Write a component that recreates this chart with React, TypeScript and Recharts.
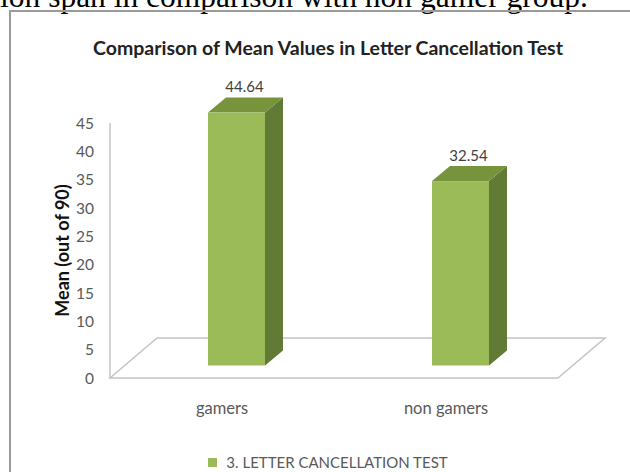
import { BarChart, Bar, XAxis, YAxis, ReferenceLine, LabelList, Legend } from "recharts";

const categories = ["gamers", "non gamers"];
const meanValues = [44.64, 32.54];
const yTicks = [0, 5, 10, 15, 20, 25, 30, 35, 40, 45];
const seriesName = "3. LETTER CANCELLATION TEST";
const chartTitle = "Comparison of Mean Values in Letter Cancellation Test";
const yTitle = "Mean (out of 90)";

const data = categories.map((name, i) => ({ name, value: meanValues[i] }));

const FONT = "Lato, 'Open Sans', sans-serif";
const GREEN = "#9bbb59";
const GREEN_TOP = "#77933c";
const GREEN_SIDE = "#617a35";
const GRID = "#c4c4c4";

// bar sits part way into the floor depth, then has its own depth
const OFF_X = 14;
const OFF_Y = -12.5;
const DEPTH_X = 18;
const DEPTH_Y = -15;
const FLOOR_X = 47;
const FLOOR_Y = -40;

const Bar3D = (props: any) => {
  const { x, y, width, height } = props;
  const fx = x + OFF_X;
  const fy = y + OFF_Y;
  const bottom = y + height + OFF_Y;
  const top = `${fx},${fy} ${fx + width},${fy} ${fx + width + DEPTH_X},${fy + DEPTH_Y} ${fx + DEPTH_X},${fy + DEPTH_Y}`;
  const side = `${fx + width},${fy} ${fx + width + DEPTH_X},${fy + DEPTH_Y} ${fx + width + DEPTH_X},${bottom + DEPTH_Y} ${fx + width},${bottom}`;
  return (
    <g>
      <polygon points={side} fill={GREEN_SIDE} />
      <polygon points={top} fill={GREEN_TOP} />
      <rect x={fx} y={fy} width={width} height={bottom - fy} fill={GREEN} />
    </g>
  );
};

const Floor = (props: any) => {
  const { x1, y1, x2 } = props;
  const pts = `${x1},${y1} ${x2},${y1} ${x2 + FLOOR_X},${y1 + FLOOR_Y} ${x1 + FLOOR_X},${y1 + FLOOR_Y}`;
  return <polygon points={pts} fill="none" stroke={GRID} strokeWidth={1.5} />;
};

const ValueLabel = (props: any) => {
  const { x, y, width, value } = props;
  return (
    <text x={x + width / 2 + 22} y={y - 33} textAnchor="middle" fill="#404040" fontSize={15} fontFamily={FONT}>
      {value}
    </text>
  );
};

const YTitle = (props: any) => {
  const { viewBox } = props;
  const cx = 62;
  const cy = viewBox.y + viewBox.height / 2;
  return (
    <text x={cx} y={cy} transform={`rotate(-90 ${cx} ${cy})`} textAnchor="middle" dominantBaseline="central"
      fontSize={18} fontWeight="bold" fill="#111" fontFamily={FONT}>
      {yTitle}
    </text>
  );
};

const LegendBox = ({ payload }: any) => (
  <div style={{ display: "flex", justifyContent: "center", alignItems: "center", fontFamily: FONT, fontSize: 15, lineHeight: "18px", color: "#595959" }}>
    {(payload || []).map((p: any, i: number) => (
      <span key={i} style={{ display: "flex", alignItems: "center" }}>
        <span style={{ width: 9, height: 9, background: GREEN, marginRight: 9, display: "inline-block" }} />
        {p.value}
      </span>
    ))}
  </div>
);

export default function App() {
  return (
    <div style={{ position: "fixed", left: 0, top: 0, width: 630, height: 472, overflow: "hidden", background: "#fff" }}>
      <svg width={630} height={14} style={{ position: "absolute", left: 0, top: 0 }}>
        <text x={0} y={7} fontSize={31.5} fontFamily="'Liberation Serif', serif" fill="#000">
          ion span in comparison with non gamer group.
        </text>
      </svg>
      <div style={{ position: "absolute", left: 9, top: 10, width: 660, height: 500, border: "2px solid #9a9a9a", boxSizing: "border-box" }} />
      <div style={{ position: "absolute", left: 28, width: 600, top: 36, textAlign: "center", fontFamily: FONT, fontWeight: "bold", fontSize: 19.5, color: "#222" }}>
        {chartTitle}
      </div>
      <div style={{ position: "absolute", left: 0, top: 0 }}>
        <BarChart width={630} height={472} data={data} margin={{ top: 123, right: 72, bottom: 64, left: 50 }}>
          <ReferenceLine y={0} shape={Floor} zIndex={-10} />
          <XAxis dataKey="name" axisLine={false} tickLine={false} tickMargin={18} height={30}
            tick={{ fill: "#595959", fontSize: 16.5, fontFamily: FONT }} />
          <YAxis domain={[0, 45]} ticks={yTicks} width={60} axisLine={{ stroke: GRID, strokeWidth: 1.5 }} tickLine={false}
            tickSize={6} tickMargin={10} tick={{ fill: "#595959", fontSize: 15.5, fontFamily: FONT }}
            label={<YTitle />} />
          <Bar dataKey="value" name={seriesName} barSize={57} fill={GREEN} shape={Bar3D} isAnimationActive={false}>
            <LabelList dataKey="value" content={ValueLabel} />
          </Bar>
          <Legend layout="horizontal" verticalAlign="middle" align="center" content={LegendBox}
            wrapperStyle={{ top: 453, left: 28, width: 600 }} />
        </BarChart>
      </div>
    </div>
  );
}
